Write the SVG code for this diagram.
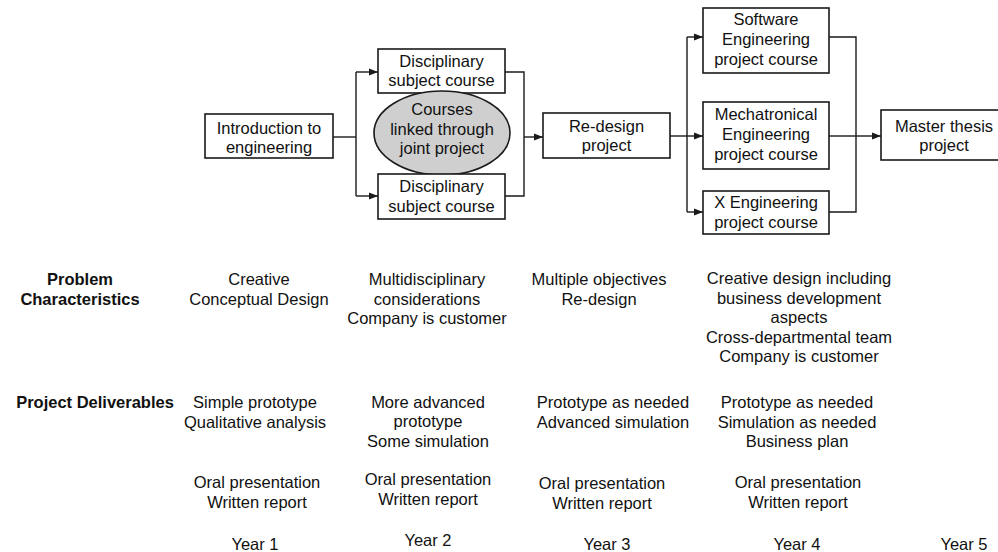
<svg xmlns="http://www.w3.org/2000/svg" width="998" height="552" viewBox="0 0 998 552">
<style>
.box{fill:#fff;stroke:#1a1a1a;stroke-width:1.6}
.ell{fill:#cfcfcf;stroke:#1a1a1a;stroke-width:1.6}
.t{font-family:"Liberation Sans",Arial,sans-serif;font-size:16.5px;fill:#111;text-anchor:middle}
.b{font-weight:bold}
.c{fill:none;stroke:#1a1a1a;stroke-width:1.4}
</style>
<defs>
<marker id="ah" viewBox="0 0 10 10" refX="10" refY="5" markerWidth="9" markerHeight="9" markerUnits="userSpaceOnUse" orient="auto">
<path d="M0,1 L10,5 L0,9 Z" fill="#1a1a1a"/>
</marker>
</defs>
<g id="connectors">
<path class="c" d="M333,137 H356"/>
<path class="c" d="M356,72 V196"/>
<path class="c" d="M356,72 H378" marker-end="url(#ah)"/>
<path class="c" d="M356,196 H378" marker-end="url(#ah)"/>
<path class="c" d="M505,72 H524 V196 H505"/>
<path class="c" d="M524,137 H543" marker-end="url(#ah)"/>
<path class="c" d="M670,136 H687"/>
<path class="c" d="M687,37 V212"/>
<path class="c" d="M687,37 H703" marker-end="url(#ah)"/>
<path class="c" d="M687,136 H703" marker-end="url(#ah)"/>
<path class="c" d="M687,212 H703" marker-end="url(#ah)"/>
<path class="c" d="M829,37 H856 V212 H829"/>
<path class="c" d="M829,136 H856"/>
<path class="c" d="M856,136 H881" marker-end="url(#ah)"/>
</g>
<g id="intro">
<rect class="box" x="205" y="114" width="128" height="44"/>
<text class="t" x="269" y="134">Introduction to</text>
<text class="t" x="269" y="153">engineering</text>
</g>
<g id="disc1">
<rect class="box" x="378" y="49" width="127" height="44"/>
<text class="t" x="441.5" y="67">Disciplinary</text>
<text class="t" x="441.5" y="86">subject course</text>
</g>
<g id="linked">
<ellipse class="ell" cx="442" cy="133" rx="68" ry="42"/>
<text class="t" x="442" y="115">Courses</text>
<text class="t" x="442" y="135">linked through</text>
<text class="t" x="442" y="154">joint project</text>
</g>
<g id="disc2">
<rect class="box" x="378" y="174" width="127" height="45"/>
<text class="t" x="441.5" y="192">Disciplinary</text>
<text class="t" x="441.5" y="212">subject course</text>
</g>
<g id="redesign">
<rect class="box" x="543" y="113" width="127" height="45"/>
<text class="t" x="606.5" y="132">Re-design</text>
<text class="t" x="606.5" y="151">project</text>
</g>
<g id="software">
<rect class="box" x="703" y="8" width="126" height="65"/>
<text class="t" x="766" y="25">Software</text>
<text class="t" x="766" y="45">Engineering</text>
<text class="t" x="766" y="65">project course</text>
</g>
<g id="mecha">
<rect class="box" x="703" y="102" width="126" height="67"/>
<text class="t" x="766" y="120">Mechatronical</text>
<text class="t" x="766" y="140">Engineering</text>
<text class="t" x="766" y="160">project course</text>
</g>
<g id="xeng">
<rect class="box" x="703" y="191" width="126" height="43"/>
<text class="t" x="766" y="208">X Engineering</text>
<text class="t" x="766" y="228">project course</text>
</g>
<g id="master">
<rect class="box" x="881" y="110" width="130" height="50"/>
<text class="t" x="944" y="132">Master thesis</text>
<text class="t" x="944" y="151">project</text>
</g>
<g id="labels">
<text class="t b" x="80" y="285">Problem</text>
<text class="t b" x="80" y="305">Characteristics</text>
<text class="t" x="259" y="285">Creative</text>
<text class="t" x="259" y="305">Conceptual Design</text>
<text class="t" x="427" y="285">Multidisciplinary</text>
<text class="t" x="427" y="305">considerations</text>
<text class="t" x="427" y="324">Company is customer</text>
<text class="t" x="599" y="285">Multiple objectives</text>
<text class="t" x="599" y="305">Re-design</text>
<text class="t" x="799" y="284">Creative design including</text>
<text class="t" x="799" y="304">business development</text>
<text class="t" x="799" y="323">aspects</text>
<text class="t" x="799" y="343">Cross-departmental team</text>
<text class="t" x="799" y="362">Company is customer</text>
<text class="t b" x="95" y="408">Project Deliverables</text>
<text class="t" x="255" y="408">Simple prototype</text>
<text class="t" x="255" y="428">Qualitative analysis</text>
<text class="t" x="428" y="408">More advanced</text>
<text class="t" x="428" y="427">prototype</text>
<text class="t" x="428" y="447">Some simulation</text>
<text class="t" x="613" y="408">Prototype as needed</text>
<text class="t" x="613" y="428">Advanced simulation</text>
<text class="t" x="797" y="408">Prototype as needed</text>
<text class="t" x="797" y="428">Simulation as needed</text>
<text class="t" x="797" y="447">Business plan</text>
<text class="t" x="257" y="488">Oral presentation</text>
<text class="t" x="257" y="508">Written report</text>
<text class="t" x="428" y="485">Oral presentation</text>
<text class="t" x="428" y="505">Written report</text>
<text class="t" x="602" y="489">Oral presentation</text>
<text class="t" x="602" y="509">Written report</text>
<text class="t" x="798" y="488">Oral presentation</text>
<text class="t" x="798" y="508">Written report</text>
<text class="t" x="255" y="550">Year 1</text>
<text class="t" x="428" y="546">Year 2</text>
<text class="t" x="607" y="550">Year 3</text>
<text class="t" x="797" y="550">Year 4</text>
<text class="t" x="964" y="550">Year 5</text>
</g>
</svg>
